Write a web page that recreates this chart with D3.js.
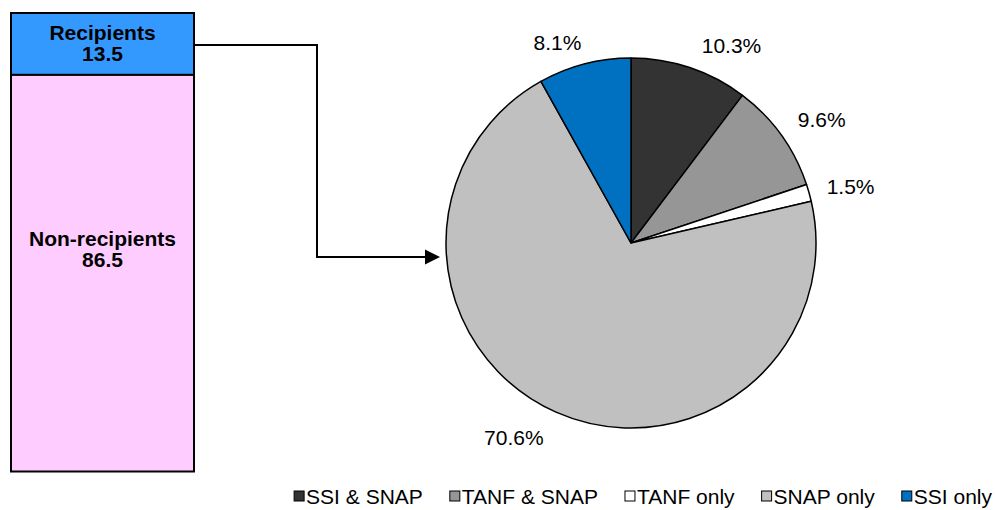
<!DOCTYPE html>
<html>
<head>
<meta charset="utf-8">
<script src="https://cdn.jsdelivr.net/npm/d3@7"></script>
<style>
  body { margin: 0; background: #fff; }
  svg { font-family: "Liberation Sans", Arial, sans-serif; }
</style>
</head>
<body>
<svg id="chart"></svg>
<script>
// bar (share of population, %)
var barGroups = ["Recipients", "Non-recipients"];
var barValues = [13.5, 86.5];

// pie (recipients breakdown, %)
var pieCategories = ["SSI & SNAP", "TANF & SNAP", "TANF only", "SNAP only", "SSI only"];
var pieValues = [10.3, 9.6, 1.5, 70.6, 8.1];
var pieLabels = ["10.3%", "9.6%", "1.5%", "70.6%", "8.1%"];

var width = 995, height = 510;
var svg = d3.select("#chart").attr("width", width).attr("height", height);

//---- stacked bar
var barColor = d3.scaleOrdinal().domain(barGroups).range(["#3399FF", "#FFCCFF"]);
var y = d3.scaleLinear().domain([0, 100]).range([13, 471.5]);  // top down
var barX = 11, barW = 183;
var barLabelNudge = [0, -23];

var stack = [];
var acc = 0;
barValues.forEach(function(v, i) {
    stack.push({name: barGroups[i], value: v, y0: acc, y1: acc + v});
    acc += v;
});

var bar = svg.append("g").attr("class", "bar");
bar.selectAll("rect")
    .data(stack)
    .enter().append("rect")
    .attr("x", barX)
    .attr("y", function(d) { return y(d.y0); })
    .attr("width", barW)
    .attr("height", function(d) { return y(d.y1) - y(d.y0); })
    .attr("fill", function(d) { return barColor(d.name); })
    .attr("stroke", "#000")
    .attr("stroke-width", 2);

var barText = bar.selectAll("text")
    .data(stack)
    .enter().append("text")
    .attr("x", barX + barW / 2)
    .attr("y", function(d, i) { return (y(d.y0) + y(d.y1)) / 2 + barLabelNudge[i]; })
    .attr("text-anchor", "middle")
    .attr("font-size", "21px")
    .attr("font-weight", "bold");
barText.append("tspan").attr("x", barX + barW / 2).attr("dy", "-0.2em").text(function(d) { return d.name; });
barText.append("tspan").attr("x", barX + barW / 2).attr("dy", "1.0em").text(function(d) { return d.value.toFixed(1); });

//---- pie
var cx = 631, cy = 243, R = 185;
var pieColor = d3.scaleOrdinal().domain(pieCategories)
    .range(["#333333", "#969696", "#FFFFFF", "#C0C0C0", "#0070C0"]);
var pie = d3.pie().sort(null).value(function(d) { return d; });
var arcs = pie(pieValues);
var arc = d3.arc().innerRadius(0).outerRadius(R);
var labelArc = d3.arc().innerRadius(225).outerRadius(225);
var labelNudge = [[29, 16], [8, 8], [3, 5], [-26, -11], [-17, 17]];

var g = svg.append("g").attr("transform", "translate(" + cx + "," + cy + ")");
g.selectAll("path")
    .data(arcs)
    .enter().append("path")
    .attr("d", arc)
    .attr("fill", function(d, i) { return pieColor(pieCategories[i]); })
    .attr("stroke", "#000")
    .attr("stroke-width", 1.5)
    .attr("stroke-linejoin", "round");

g.selectAll("text")
    .data(arcs)
    .enter().append("text")
    .attr("transform", function(d, i) {
        var c = labelArc.centroid(d);
        return "translate(" + (c[0] + labelNudge[i][0]) + "," + (c[1] + labelNudge[i][1]) + ")";
    })
    .attr("dy", "0.35em")
    .attr("text-anchor", "middle")
    .attr("font-size", "21px")
    .attr("fill", "#000")
    .text(function(d, i) { return pieLabels[i]; });

//---- connector arrow from recipients bar to pie
var ax0 = barX + barW, ay0 = 45, axMid = 317, ay1 = cy + 14, axTip = cx - R - 6;
svg.append("path")
    .attr("d", "M" + ax0 + "," + ay0 + "H" + axMid + "V" + ay1 + "H" + (axTip - 12))
    .attr("fill", "none")
    .attr("stroke", "#000")
    .attr("stroke-width", 2);
svg.append("path")
    .attr("d", "M" + axTip + "," + ay1 + "l-15,-7.5v15z")
    .attr("fill", "#000");

//---- legend, laid out right to left
var legend = svg.append("g").attr("class", "legend");
var items = legend.selectAll("g")
    .data(pieCategories)
    .enter().append("g");
items.append("rect")
    .attr("width", 10).attr("height", 10)
    .attr("y", 491)
    .attr("fill", function(d) { return pieColor(d); })
    .attr("stroke", "#000")
    .attr("stroke-width", 1);
items.append("text")
    .attr("x", 12)
    .attr("y", 504)
    .attr("font-size", "21px")
    .attr("fill", "#000")
    .text(function(d) { return d; });

var widths = [];
items.each(function() { widths.push(12 + d3.select(this).select("text").node().getComputedTextLength()); });
var xEnd = 992, pos = [];
for (var i = widths.length - 1; i >= 0; i--) {
    xEnd -= widths[i];
    pos[i] = xEnd;
    xEnd -= 27;
}
items.attr("transform", function(d, i) { return "translate(" + pos[i] + ",0)"; });
</script>
</body>
</html>
